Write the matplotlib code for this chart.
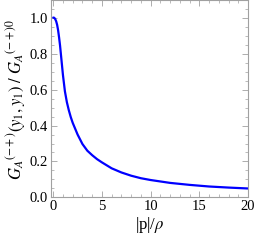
import matplotlib
matplotlib.use("Agg")
import matplotlib.pyplot as plt
from matplotlib.ticker import MultipleLocator

# values
p_over_rho = [0, 0.1, 0.2, 0.3, 0.4, 0.5, 0.6, 0.7, 0.8, 0.9, 1.0, 1.2, 1.4, 1.6, 1.8,
              2.0, 2.5, 3.0, 3.5, 4.0, 4.5, 5.0, 6.0, 7.0, 8.0, 9.0, 10, 12, 14, 16, 18, 20]
ratio = [1.0, 0.999, 0.992, 0.98, 0.96, 0.93, 0.89, 0.845, 0.79, 0.735, 0.68, 0.59, 0.53,
         0.485, 0.447, 0.415, 0.35, 0.297, 0.26, 0.235, 0.213, 0.195, 0.162, 0.139, 0.121,
         0.107, 0.097, 0.081, 0.07, 0.061, 0.055, 0.05]

plt.rcParams["font.family"] = ["Liberation Serif", "DejaVu Serif"]
plt.rcParams["mathtext.fontset"] = "stix"

fig = plt.figure(figsize=(2.56, 2.42), dpi=100)
ax = fig.add_axes([0.198, 0.184, 0.771, 0.814])

ax.plot(p_over_rho, ratio, color=(0, 0, 1), lw=1.6, solid_capstyle="round")

ax.set_xlim(-0.26, 20.0)
ax.set_ylim(0, 1.095)
ax.xaxis.set_major_locator(MultipleLocator(5))
ax.xaxis.set_minor_locator(MultipleLocator(1))
ax.yaxis.set_major_locator(MultipleLocator(0.2))
ax.yaxis.set_minor_locator(MultipleLocator(0.05))
ax.yaxis.set_major_formatter(plt.FuncFormatter(lambda v, _: f"{v:.1f}"))

gray = "#a0a0a0"
for s in ax.spines.values():
    s.set_color(gray)
    s.set_linewidth(0.8)
ax.tick_params(which="both", direction="in", top=True, right=True, colors=gray,
               labelcolor="black", labelsize=10.5, pad=2)
ax.tick_params(which="major", length=4, width=0.6)
ax.tick_params(which="minor", length=2, width=0.5)

ax.set_xlabel(r"|p|/$\rho$", fontsize=12, labelpad=1)
ax.set_ylabel(r"$G_A{}^{(-+)}(y_1,y_1)\ /\ G_A{}^{(-+)0}$", fontsize=12, labelpad=1)

fig.savefig("out.png", dpi=100)
